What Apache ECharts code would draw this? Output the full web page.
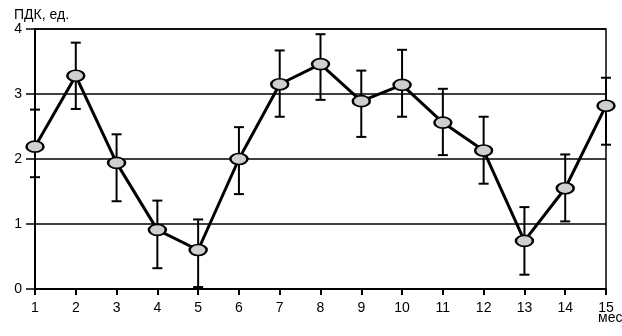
<!DOCTYPE html>
<html>
<head>
<meta charset="utf-8">
<script src="https://cdn.jsdelivr.net/npm/echarts@6/dist/echarts.min.js"></script>
<style>
html,body{margin:0;padding:0;background:#fff;}
#c{width:622px;height:336px;}
</style>
</head>
<body>
<div id="c"></div>
<script>
const months = [1, 2, 3, 4, 5, 6, 7, 8, 9, 10, 11, 12, 13, 14, 15];
const means  = [2.19, 3.28, 1.94, 0.91, 0.60, 2.00, 3.15, 3.46, 2.89, 3.14, 2.56, 2.13, 0.74, 1.55, 2.82];
const upper  = [2.76, 3.79, 2.38, 1.36, 1.07, 2.49, 3.67, 3.92, 3.36, 3.68, 3.08, 2.65, 1.26, 2.07, 3.25];
const lower  = [1.72, 2.77, 1.35, 0.32, 0.03, 1.46, 2.65, 2.91, 2.34, 2.65, 2.06, 1.62, 0.22, 1.04, 2.22];
const yTicks = [0, 1, 2, 3, 4];
const yName = 'ПДК, ед.';
const xName = 'мес';

const FONT = "'Liberation Sans', Arial, sans-serif";
const chart = echarts.init(document.getElementById('c'), null, {renderer: 'canvas'});

const lineData = months.map((m, i) => [m, means[i]]);
const errData = months.map((m, i) => [m, lower[i], upper[i]]);

chart.setOption({
  animation: false,
  backgroundColor: '#fff',
  title: {
    text: xName, left: 598, top: 311, padding: 0,
    textStyle: {color: '#000', fontFamily: FONT, fontSize: 14, fontWeight: 'normal'}
  },
  grid: {
    left: 35, right: 16, top: 29, bottom: 47,
    show: true, borderColor: '#000', borderWidth: 1.5, backgroundColor: 'transparent',
    outerBoundsMode: 'none'
  },
  xAxis: {
    type: 'value', min: 1, max: 15, interval: 1,
    axisLine: {show: true, onZero: false, lineStyle: {color: '#000', width: 2}},
    axisTick: {show: true, length: 6, lineStyle: {color: '#000', width: 2}},
    axisLabel: {color: '#000', fontFamily: FONT, fontSize: 14, margin: 12},
    splitLine: {show: false}
  },
  yAxis: {
    type: 'value', min: yTicks[0], max: yTicks[yTicks.length - 1], interval: 1,
    name: yName, nameLocation: 'end', nameGap: 7,
    nameTextStyle: {color: '#000', fontFamily: FONT, fontSize: 14, align: 'left', verticalAlign: 'bottom', padding: [0, 0, 0, -21]},
    axisLine: {show: true, onZero: false, lineStyle: {color: '#000', width: 2}},
    axisTick: {show: true, length: 9, lineStyle: {color: '#000', width: 1.5}},
    axisLabel: {color: '#000', fontFamily: FONT, fontSize: 14, margin: 13, padding: [3, 0, 0, 0]},
    splitLine: {show: true, lineStyle: {color: '#000', width: 1.5}}
  },
  series: [
    {
      type: 'custom',
      z: 2,
      clip: false,
      data: errData,
      renderItem: function (params, api) {
        const x = api.value(0);
        const lo = api.coord([x, api.value(1)]);
        const hi = api.coord([x, api.value(2)]);
        const hw = 5;
        const st = {stroke: '#000', lineWidth: 2};
        return {
          type: 'group',
          children: [
            {type: 'line', shape: {x1: lo[0], y1: lo[1], x2: hi[0], y2: hi[1]}, style: st},
            {type: 'line', shape: {x1: hi[0] - hw, y1: hi[1], x2: hi[0] + hw, y2: hi[1]}, style: st},
            {type: 'line', shape: {x1: lo[0] - hw, y1: lo[1], x2: lo[0] + hw, y2: lo[1]}, style: st}
          ]
        };
      }
    },
    {
      type: 'line',
      z: 3,
      clip: false,
      data: lineData,
      symbol: 'path://M0,6 A8,6 0 1 1 16,6 A8,6 0 1 1 0,6 Z',
      symbolSize: [17, 11],
      showSymbol: true,
      lineStyle: {color: '#000', width: 3},
      itemStyle: {color: '#cfcfcf', borderColor: '#000', borderWidth: 2},
      emphasis: {disabled: true}
    }
  ]
});
</script>
</body>
</html>
